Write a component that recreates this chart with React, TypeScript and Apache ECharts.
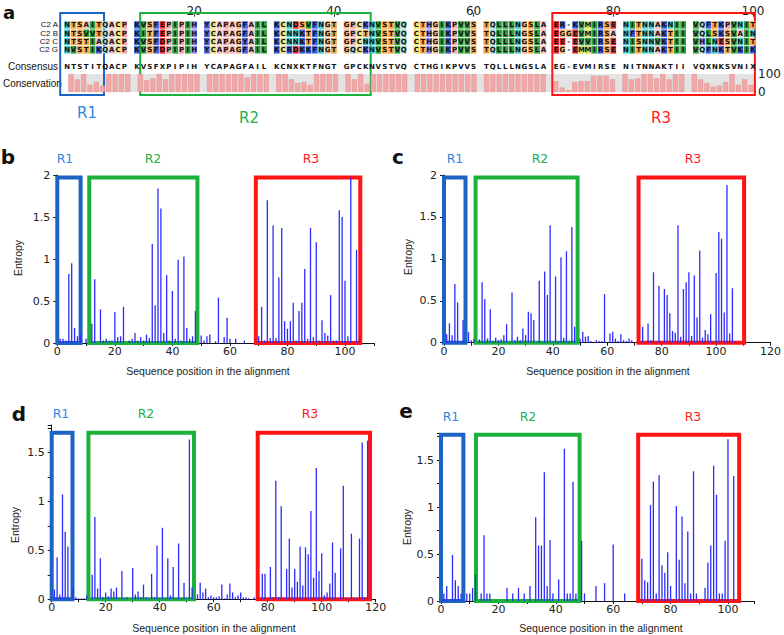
import React, { useEffect, useRef } from "react";
import * as echarts from "echarts";

// ---------- Panel a: alignment data ----------
const SEQ_NAMES = ["C2 A", "C2 B", "C2 C", "C2 G"];
const SEQS = [
  "NTSAITQACPKVSFEPIPIHYCAPAGFAILKCNDSVFNGTGPCKNVSTVQCTHGIKPVVSTQLLLNGSLAER-KVMIRSENITNNAKNIIVQFTKPVNIT",
  "NTSVVTQACPKITFEPIPIHYCAPAGFAILKCNNKTFNGTGPCTNVSTVQCTHGIKPVVSTQLLLNGSLAEGGEVMIRSANFTNNAKTIIVQLSKSVAIN",
  "NTSTIAQACPKVSFDPIPIHYCAPAGYAILKCNNKTFNGTGPCNNVSTVQCTHGIKPVVSTQLLLNGSLAEE-EVVIRSENISNNVKTIIVHLNESVNIT",
  "NVSTIKQACPKVSFDPIPIHYCAPAGFAILKCRDKKFNGTGQCKNVSTVQCTHGIKPVVSTQLLLNGSLAEG-EMMIRSENITNNAKTIIVQFNKTVKIK",
];
const CONSENSUS = "NTSTITQACPKVSFXPIPIHYCAPAGFAILKCNXKTFNGTGPCKNVSTVQCTHGIKPVVSTQLLLNGSLAEG-EVMIRSENITNNAKTIIVQXNKSVNIX";
const CONSERVATION = [
  100, 70, 100, 40, 55, 35, 100, 100, 100, 100,
  100, 65, 75, 100, 70, 100, 100, 100, 100, 100,
  100, 100, 100, 100, 100, 100, 80, 100, 100, 100,
  100, 100, 70, 50, 55, 40, 100, 100, 100, 100,
  100, 70, 100, 45, 100, 100, 100, 100, 100, 100,
  100, 100, 100, 100, 100, 100, 100, 100, 100, 100,
  100, 100, 100, 100, 100, 100, 100, 100, 100, 100,
  60, 25, 10, 55, 60, 60, 90, 90, 90, 70,
  100, 70, 75, 100, 100, 75, 100, 70, 100, 100,
  100, 70, 50, 30, 35, 55, 100, 40, 70, 40,
];
const ALIGN_TICKS = [20, 40, 60, 80, 100];
// regions in alignment columns (gap-adjusted units)
const A_REGIONS = [[-1.1, 5.8], [11.5, 47.8], [76.4, 108.3]];

const RES_COLORS: Record<string, string> = {
  A: "#f0bcbc", C: "#f2e07a", D: "#e8282e", E: "#e8282e", F: "#4a63df",
  G: "#f4b87c", H: "#8a86e8", I: "#2e9e3e", K: "#3a5fdc", L: "#2e9e3e",
  M: "#d8dc48", N: "#3cc6c6", P: "#f3a8a8", Q: "#9fd6d6", R: "#3a5fdc",
  S: "#f5a443", T: "#f5a443", V: "#2e9e3e", W: "#4a63df", Y: "#4a63df",
};

// ---------- Entropy panels: [sequence position, entropy] ----------
const B_ENTROPY = [
  [1, 0.05], [2, 0.05], [3, 0.03], [4, 0.82], [5, 0.95], [6, 0.18], [7, 0.08], [8, 0.1], [10, 0.05],
  [12, 0.23], [13, 0.76], [15, 0.4], [16, 0.03], [17, 0.05], [18, 0.03], [19, 0.03], [20, 0.37],
  [21, 0.07], [22, 0.08], [23, 0.43], [25, 0.03], [26, 0.05], [27, 0.12], [28, 0.03], [29, 0.07],
  [30, 0.03], [31, 0.1], [32, 0.06], [33, 1.18], [34, 0.45], [35, 1.84], [36, 1.6], [37, 0.12],
  [38, 0.81], [39, 0.03], [40, 0.62], [41, 0.05], [42, 0.99], [43, 0.03], [44, 1.03], [45, 0.18],
  [46, 0.05], [47, 0.08], [48, 0.38], [50, 0.09], [51, 0.03], [52, 0.08], [53, 0.1], [55, 0.02],
  [56, 0.54], [58, 0.07], [59, 0.3], [60, 0.05], [62, 0.05], [65, 0.03], [70, 0.08], [71, 0.43],
  [72, 0.03], [73, 1.7], [74, 0.06], [75, 1.4], [76, 0.06], [77, 0.78], [78, 1.37], [79, 0.26],
  [80, 0.17], [81, 0.26], [82, 0.48], [83, 0.03], [84, 0.38], [85, 0.48], [86, 0.88], [87, 0.05],
  [88, 1.37], [89, 0.07], [90, 1.2], [91, 0.03], [92, 0.27], [93, 0.12], [94, 0.09], [95, 0.57],
  [96, 0.03], [97, 0.03], [98, 1.58], [99, 1.5], [100, 0.74], [101, 0.08], [102, 1.97], [104, 1.11],
  [105, 0.03],
];
const C_ENTROPY = [
  [1, 0.1], [2, 0.23], [3, 0.09], [4, 0.7], [5, 0.48], [7, 0.27], [9, 0.13], [10, 0.03], [11, 0.04],
  [13, 0.04], [14, 0.72], [15, 0.52], [16, 0.05], [17, 0.4], [18, 0.02], [19, 0.06], [20, 0.03],
  [21, 0.04], [22, 0.09], [23, 0.22], [24, 0.01], [25, 0.6], [26, 0.03], [27, 0.07], [28, 0.03],
  [29, 0.17], [30, 0.09], [31, 0.37], [32, 0.35], [33, 0.27], [34, 0.01], [35, 0.74], [36, 0.01],
  [37, 0.85], [38, 0.57], [39, 1.4], [40, 0.01], [41, 0.79], [42, 0.02], [43, 1.02], [44, 0.06],
  [45, 1.09], [46, 0.02], [47, 1.38], [48, 0.19], [50, 0.05], [51, 0.13], [52, 0.07], [53, 0.08],
  [54, 0.02], [56, 0.03], [57, 0.02], [58, 0.02], [59, 0.58], [61, 0.11], [62, 0.13], [63, 0.05],
  [64, 0.02], [65, 0.1], [66, 0.03], [67, 0.02], [68, 0.05], [69, 0.03], [73, 0.19], [75, 0.23],
  [76, 0.03], [77, 0.84], [78, 0.01], [79, 0.68], [80, 0.01], [81, 0.64], [82, 0.57], [83, 0.35],
  [84, 0.14], [85, 0.12], [86, 1.4], [87, 0.07], [88, 0.64], [89, 0.72], [90, 0.84], [91, 0.08],
  [92, 0.8], [93, 0.3], [94, 1.1], [95, 0.06], [96, 0.15], [97, 0.1], [98, 0.34], [99, 0.02],
  [100, 0.83], [101, 1.32], [102, 1.24], [103, 0.36], [104, 1.88], [105, 0.11], [106, 0.65], [107, 0.02],
];
const D_ENTROPY = [
  [1, 0.1], [2, 0.43], [3, 0.05], [4, 1.07], [5, 0.69], [6, 0.54], [8, 0.12], [9, 0.02], [10, 0.01],
  [11, 0.01], [12, 0.01], [13, 0.04], [15, 0.25], [16, 0.84], [17, 0.11], [18, 0.42], [19, 0.02],
  [20, 0.07], [21, 0.03], [22, 0.11], [23, 0.08], [24, 0.12], [25, 0.01], [26, 0.29], [27, 0.01],
  [28, 0.02], [30, 0.32], [31, 0.05], [32, 0.08], [33, 0.02], [34, 0.15], [35, 0.02], [36, 0.01],
  [37, 0.26], [38, 0.02], [39, 0.55], [40, 0.01], [41, 0.73], [42, 0.01], [43, 0.42], [44, 0.04],
  [45, 0.33], [46, 0.01], [47, 0.57], [48, 0.01], [49, 0.17], [50, 0.01], [51, 1.63], [52, 0.12],
  [53, 0.01], [54, 0.05], [55, 0.17], [56, 0.07], [57, 0.11], [58, 0.02], [59, 0.04], [60, 0.02],
  [61, 0.02], [62, 0.03], [63, 0.15], [64, 0.01], [65, 0.05], [66, 0.16], [67, 0.07], [68, 0.02],
  [69, 0.04], [70, 0.07], [71, 0.02], [72, 0.02], [73, 0.01], [75, 0.02], [78, 0.26], [79, 0.26],
  [81, 0.33], [82, 0.02], [83, 1.21], [84, 0.02], [85, 0.95], [86, 0.01], [87, 0.31], [88, 0.62],
  [89, 0.12], [90, 0.31], [91, 0.18], [92, 0.54], [93, 0.14], [94, 0.53], [95, 0.46], [96, 0.9],
  [97, 0.22], [98, 1.34], [99, 0.29], [100, 0.47], [101, 0.04], [102, 0.07], [103, 0.16], [104, 0.58],
  [105, 0.27], [106, 0.01], [107, 0.52], [108, 1.16], [109, 0.01], [110, 0.01], [111, 0.67],
  [112, 0.01], [113, 0.01], [114, 0.62], [115, 1.6], [116, 0.02], [117, 1.62],
];
const E_ENTROPY = [
  [1, 0.08], [2, 0.16], [4, 0.49], [5, 0.22], [6, 0.16], [7, 0.08], [9, 0.08], [10, 0.08], [11, 0.14],
  [12, 0.28], [14, 0.08], [15, 0.7], [16, 0.08], [17, 0.08], [23, 0.14], [25, 0.08], [27, 0.14],
  [29, 0.08], [31, 0.16], [33, 0.89], [34, 0.59], [35, 0.59], [36, 1.37], [37, 0.16], [38, 0.65],
  [39, 0.08], [41, 0.23], [43, 1.62], [44, 0.08], [45, 0.08], [46, 1.27], [47, 0.08], [49, 0.64],
  [50, 0.08], [54, 0.16], [57, 0.19], [60, 0.6], [64, 0.08], [70, 0.45], [71, 0.22], [72, 0.2],
  [73, 1.02], [74, 1.27], [75, 0.08], [76, 1.34], [77, 0.38], [78, 0.3], [79, 0.52], [80, 0.16],
  [82, 1.01], [83, 0.44], [84, 0.9], [85, 0.19], [86, 0.74], [87, 0.08], [88, 1.38], [89, 0.08],
  [92, 0.14], [93, 0.41], [94, 0.59], [95, 1.44], [96, 1.13], [97, 0.08], [98, 0.08], [99, 0.64],
  [100, 1.72], [102, 1.33],
];
const B_REGIONS = [[0, 8.1], [11.1, 48.7], [69, 105.3]];
const C_REGIONS = [[0, 7.9], [11.6, 49.1], [71.5, 110.3]];
const D_REGIONS = [[0, 7.7], [13.6, 52.7], [76.3, 117.9]];
const E_REGIONS = [[0, 7.8], [12.2, 48.3], [68.7, 103.9]];
const REGION_NAMES = ["R1", "R2", "R3"];

// ---------- styling / layout ----------
const BOX_COLORS = ["#1d63c4", "#1bb23c", "#ff1414"];
const LABEL_COLORS = ["#2f86e0", "#22b04a", "#ff2020"];
const BAR_COLOR = "#2b2bff";
const SANS = "Liberation Sans";
const DIGITS = "DejaVu Sans";

const PANELS = [
  { data: B_ENTROPY, regions: B_REGIONS, boxTop: 1.97, xMax: 110, yMax: 2, yInt: 0.5,
    grid: { left: 57.3, top: 175, width: 316.5, height: 168 } },
  { data: C_ENTROPY, regions: C_REGIONS, boxTop: 1.97, xMax: 120, yMax: 2, yInt: 0.5,
    grid: { left: 444, top: 175, width: 328.8, height: 167.7 } },
  { data: D_ENTROPY, regions: D_REGIONS, boxTop: 1.7, xMax: 120, yMax: 1.78, yInt: 0.25,
    grid: { left: 51.7, top: 424.9, width: 324, height: 174.4 } },
  { data: E_ENTROPY, regions: E_REGIONS, boxTop: 1.77, xMax: 109, yMax: 1.78, yInt: 0.25,
    grid: { left: 441, top: 433.7, width: 312.8, height: 167.3 } },
];

const PANEL_TEXT = [
  { letter: "b", lx: 8, ly: 157, r: [[65, 158], [153, 158], [311, 158]], ent: [18, 258], seq: [208, 371] },
  { letter: "c", lx: 398, ly: 157, r: [[455, 158], [540, 158], [693, 158]], ent: [408, 257], seq: [608, 371] },
  { letter: "d", lx: 19, ly: 414, r: [[61, 413], [146, 413], [310, 413]], ent: [15, 525], seq: [214, 628] },
  { letter: "e", lx: 406, ly: 411, r: [[451, 416], [528, 416], [693, 416]], ent: [407, 527], seq: [601, 628] },
];

const toU = (i: number) => i + Math.floor(i / 10);

function text(t: string, x: number, y: number, size: number, fill: string, opts: any = {}) {
  return {
    type: "text",
    x,
    y,
    rotation: opts.rotation || 0,
    silent: true,
    style: {
      text: t,
      fill,
      fontSize: size,
      fontFamily: opts.family || SANS,
      fontWeight: opts.weight || "normal",
      align: "center",
      verticalAlign: "middle",
      textAlign: "center",
      textVerticalAlign: "middle",
    },
  };
}

export default function App() {
  const ref = useRef<HTMLDivElement>(null);

  useEffect(() => {
    if (!ref.current) return;
    const chart = echarts.init(ref.current, undefined, { renderer: "svg" });

    // alignment cells
    const cells: { u: number; r: number; ch: string; bg: string | null }[] = [];
    SEQS.forEach((s, r) => {
      for (let i = 0; i < s.length; i++) {
        const ch = s[i];
        cells.push({ u: toU(i), r, ch, bg: RES_COLORS[ch] || null });
      }
    });
    for (let i = 0; i < CONSENSUS.length; i++) {
      cells.push({ u: toU(i), r: 5, ch: CONSENSUS[i], bg: null });
    }
    const tickU = ALIGN_TICKS.map((p) => toU(p - 1));

    const grids: any[] = [
      { left: 64, top: 20.8, width: 692.15, height: 49.8 },
      { left: 64, top: 74, width: 692.15, height: 18, show: true, backgroundColor: "#e3e3e3", borderWidth: 0 },
      { left: 57.65, top: 13, width: 698.5, height: 82 },
      ...PANELS.map((p) => ({ ...p.grid })),
    ];

    const xAxes: any[] = [
      {
        gridIndex: 0, type: "value", min: -0.5, max: 108.5, position: "top", offset: 4,
        axisLine: { show: false }, splitLine: { show: false },
        axisTick: { show: true, customValues: tickU, length: 4, lineStyle: { color: "#444" } },
        axisLabel: {
          show: true, customValues: tickU, margin: 0, fontSize: 12, color: "#222", fontFamily: DIGITS,
          formatter: (v: number) => {
            const k = tickU.indexOf(Math.round(v));
            return k >= 0 ? String(ALIGN_TICKS[k]) : "";
          },
        },
      },
      { gridIndex: 1, type: "value", min: -0.5, max: 108.5, show: false },
      { gridIndex: 2, type: "value", min: -1.5, max: 108.5, show: false },
      ...PANELS.map((p, k) => ({
        gridIndex: 3 + k, type: "value", min: 0, max: p.xMax, interval: 10,
        axisLine: { show: true, onZero: false, lineStyle: { color: "#111", width: 1 } },
        axisTick: { show: true, length: 3, lineStyle: { color: "#111" } },
        splitLine: { show: false },
        axisLabel: {
          margin: 3, fontSize: 11, color: "#222", fontFamily: DIGITS,
          formatter: (v: number) => (Math.abs(v % 20) < 1e-6 ? String(v) : ""),
        },
      })),
    ];

    const yAxes: any[] = [
      {
        gridIndex: 0, type: "category", inverse: true,
        data: [...SEQ_NAMES, "", "Consensus"],
        axisLine: { show: false }, axisTick: { show: false }, splitLine: { show: false },
        axisLabel: {
          interval: 0, fontSize: 8, lineHeight: 8, color: "#111", margin: 6, fontFamily: SANS,
          formatter: (v: string) => (v === "Consensus" ? "{big|" + v + "}" : v),
          rich: { big: { fontSize: 10, lineHeight: 10, color: "#111", fontFamily: SANS } },
        },
      },
      {
        gridIndex: 1, type: "category", data: ["Conservation"], position: "left",
        axisLine: { show: false }, axisTick: { show: false }, splitLine: { show: false },
        axisLabel: { interval: 0, fontSize: 10, color: "#111", margin: 6, fontFamily: SANS },
      },
      {
        gridIndex: 1, type: "value", position: "right", min: 0, max: 100, interval: 100,
        axisLine: { show: false }, axisTick: { show: false }, splitLine: { show: false },
        axisLabel: { fontSize: 12, color: "#222", margin: 4, fontFamily: DIGITS },
      },
      { gridIndex: 2, type: "value", min: 0, max: 1, show: false },
      ...PANELS.map((p, k) => ({
        gridIndex: 3 + k, type: "value", min: 0, max: p.yMax, interval: p.yInt,
        axisLine: { show: true, lineStyle: { color: "#111", width: 1 } },
        axisTick: { show: true, length: 4, lineStyle: { color: "#111" } },
        splitLine: { show: false },
        axisLabel: {
          margin: 7, fontSize: 11, color: "#222", fontFamily: DIGITS,
          formatter: (v: number) => (Math.abs(v * 2 - Math.round(v * 2)) < 1e-6 ? String(v) : ""),
        },
      })),
    ];

    const series: any[] = [
      {
        type: "custom",
        xAxisIndex: 0,
        yAxisIndex: 0,
        silent: true,
        data: cells.map((c) => [c.u, c.r]),
        renderItem: (params: any, api: any) => {
          const c = cells[params.dataIndex];
          const p = api.coord([api.value(0), api.value(1)]);
          const s = api.size([1, 1]);
          const w = s[0];
          const h = 8.3;
          const children: any[] = [];
          if (c.bg) {
            children.push({
              type: "rect",
              shape: { x: p[0] - w / 2 + 0.3, y: p[1] - h / 2 + 0.4, width: w - 0.6, height: h - 0.8 },
              style: { fill: c.bg },
            });
          }
          children.push({
            type: "text",
            style: {
              text: c.ch, x: p[0], y: p[1] + 0.3, align: "center", verticalAlign: "middle",
              fontSize: 7, fontWeight: "bold", fill: "#111", fontFamily: DIGITS,
            },
          });
          return { type: "group", children };
        },
      },
      {
        type: "bar",
        xAxisIndex: 1,
        yAxisIndex: 2,
        barWidth: 5,
        silent: true,
        itemStyle: { color: "#f4a7a7", borderColor: "#e08a8a", borderWidth: 0.5 },
        data: CONSERVATION.map((v, i) => [toU(i), v]),
      },
      {
        type: "line",
        xAxisIndex: 2,
        yAxisIndex: 3,
        clip: false,
        silent: true,
        showSymbol: false,
        lineStyle: { width: 0, opacity: 0 },
        data: [[0, 0]],
        markArea: {
          silent: true,
          label: { show: false },
          itemStyle: { color: "rgba(0,0,0,0)", borderWidth: 2 },
          data: A_REGIONS.map((r, k) => [
            { xAxis: r[0], yAxis: 0, itemStyle: { color: "rgba(0,0,0,0)", borderColor: BOX_COLORS[k], borderWidth: 2 } },
            { xAxis: r[1], yAxis: 1 },
          ]),
        },
      },
      ...PANELS.map((p, k) => ({
        type: "bar",
        xAxisIndex: 3 + k,
        yAxisIndex: 4 + k,
        barWidth: 1.3,
        clip: false,
        silent: true,
        itemStyle: { color: BAR_COLOR },
        data: p.data,
        markArea: {
          silent: true,
          label: { show: false },
          itemStyle: { color: "rgba(0,0,0,0)", borderWidth: 4 },
          data: p.regions.map((r, j) => [
            { xAxis: r[0], yAxis: 0, itemStyle: { color: "rgba(0,0,0,0)", borderColor: BOX_COLORS[j], borderWidth: 4 } },
            { xAxis: r[1], yAxis: p.boxTop },
          ]),
        },
      })),
    ];

    const graphics: any[] = [
      text("a", 9, 12, 18, "#111", { weight: "bold", family: "DejaVu Sans" }),
      text("R1", 87, 113, 15, LABEL_COLORS[0], { family: DIGITS }),
      text("R2", 249, 118, 15, LABEL_COLORS[1], { family: DIGITS }),
      text("R3", 661, 118, 15, LABEL_COLORS[2], { family: DIGITS }),
    ];
    PANEL_TEXT.forEach((t) => {
      graphics.push(text(t.letter, t.lx, t.ly, 20, "#111", { weight: "bold", family: "DejaVu Sans" }));
      t.r.forEach((pos, j) => graphics.push(text(REGION_NAMES[j], pos[0], pos[1], 12.5, LABEL_COLORS[j], { family: DIGITS })));
      graphics.push(text("Entropy", t.ent[0], t.ent[1], 10.5, "#222", { rotation: Math.PI / 2 }));
      graphics.push(text("Sequence position in the alignment", t.seq[0], t.seq[1], 10.5, "#222"));
    });

    chart.setOption({
      animation: false,
      backgroundColor: "#ffffff",
      textStyle: { fontFamily: SANS },
      grid: grids,
      xAxis: xAxes,
      yAxis: yAxes,
      series,
      graphic: { elements: graphics },
    });

    return () => chart.dispose();
  }, []);

  return (
    <div
      ref={ref}
      style={{ position: "absolute", left: 0, top: 0, width: 784, height: 635, background: "#fff" }}
    />
  );
}
